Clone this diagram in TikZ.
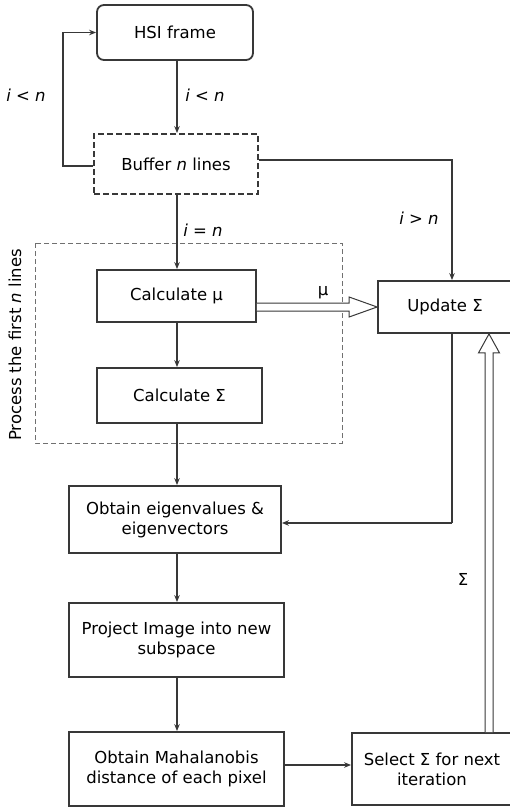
\documentclass[tikz,border=0pt]{standalone}
\usepackage{fontspec}
\setmainfont{DejaVu Sans}
\usetikzlibrary{arrows.meta,calc}
\definecolor{boxc}{HTML}{383838}
\definecolor{dashc}{HTML}{707070}
\begin{document}
\begin{tikzpicture}[x=1pt,y=-1pt,
  every node/.style={font=\fontsize{16.5}{20}\selectfont},
  blk/.style={draw=boxc, line width=1.8pt, inner sep=0pt, align=center, fill=white},
  arr/.style={draw=boxc, line width=1.6pt, -{Stealth[length=7pt,width=5.5pt]}},
  ln/.style={draw=boxc, line width=1.6pt},
  hollow/.style={draw=boxc, line width=1pt, fill=white, line join=miter},
  lbl/.style={inner sep=0pt}
]
\useasboundingbox (0,0) rectangle (510,808);

% dashed group
\draw[dashc, line width=1pt, dash pattern=on 5pt off 3pt] (35,243) rectangle (342,443);
\node[lbl, rotate=90] (grp) at (15,345) {Process the first \textit{n} lines};

% nodes
\node[blk, rounded corners=7pt, minimum width=156pt, minimum height=55pt] (hsi) at (175,32.5) {HSI frame};
\node[blk, dash pattern=on 6pt off 3pt, minimum width=164pt, minimum height=60pt] (buf) at (176,164) {Buffer \textit{n} lines};
\node[blk, minimum width=159pt, minimum height=52pt] (mu) at (176.5,296) {Calculate μ};
\node[blk, minimum width=165pt, minimum height=55pt] (sig) at (179.5,395.5) {Calculate Σ};
\node[blk, minimum width=134pt, minimum height=52pt] (upd) at (445,307) {Update Σ};
\node[blk, minimum width=212pt, minimum height=67pt] (eig) at (175,519.5) {Obtain eigenvalues \&\\eigenvectors};
\node[blk, minimum width=215pt, minimum height=74pt] (proj) at (176.5,640) {Project Image into new\\subspace};
\node[blk, minimum width=215pt, minimum height=74pt] (mah) at (176.5,769) {Obtain Mahalanobis\\distance of each pixel};
\node[blk, minimum width=160pt, minimum height=72pt] (sel) at (432,769) {Select Σ for next\\iteration};

% main column
\coordinate (col) at (177,0);
\draw[arr] (col |- hsi.south) -- (col |- buf.north);
\draw[arr] (col |- buf.south) -- (col |- mu.north);
\draw[arr] (col |- mu.south) -- (col |- sig.north);
\draw[arr] (col |- sig.south) -- (col |- eig.north);
\draw[arr] (col |- eig.south) -- (col |- proj.north);
\draw[arr] (col |- proj.south) -- (col |- mah.north);

% loop back
\coordinate (lp) at (63,166);
\draw[arr] (buf.west |- lp) -- (lp) |- (hsi.west);

% buffer to update
\coordinate (rb) at (452,160);
\draw[arr] (buf.east |- rb) -- (rb) -- (rb |- upd.north);

% update to eigen
\coordinate (re) at (452,523);
\draw[ln] (rb |- upd.south) -- (re);
\draw[arr] (re) -- (eig.east |- re);

% mahalanobis to select
\coordinate (ms) at (0,765);
\draw[arr] (mah.east |- ms) -- (sel.west |- ms);

% hollow arrow mu -> update
\coordinate (ha) at (mu.east |- upd.west);
\coordinate (hb) at (upd.west);
\draw[hollow] ($(ha)+(0,-4)$) -- ($(hb)+(-28,-4)$) -- ($(hb)+(-28,-10)$) -- (hb)
  -- ($(hb)+(-28,10)$) -- ($(hb)+(-28,4)$) -- ($(ha)+(0,4)$);

% hollow arrow select -> update
\coordinate (va) at (489,0);
\coordinate (vt) at (va |- upd.south);
\coordinate (vb) at (va |- sel.north);
\draw[hollow] ($(vb)+(-4,0)$) -- ($(vt)+(-4,19)$) -- ($(vt)+(-10.5,19)$) -- (vt)
  -- ($(vt)+(10.5,19)$) -- ($(vt)+(4,19)$) -- ($(vb)+(4,0)$);

% labels
\node[lbl] (l1) at (26,95) {\textit{i} < \textit{n}};
\node[lbl] (l2) at (205,95) {\textit{i} < \textit{n}};
\node[lbl] (l3) at (203,230) {\textit{i} = \textit{n}};
\node[lbl] (l4) at (419,218) {\textit{i} > \textit{n}};
\node[lbl] (l5) at (323,293) {μ};
\node[lbl] (l6) at (463,579) {Σ};
\end{tikzpicture}
\end{document}
